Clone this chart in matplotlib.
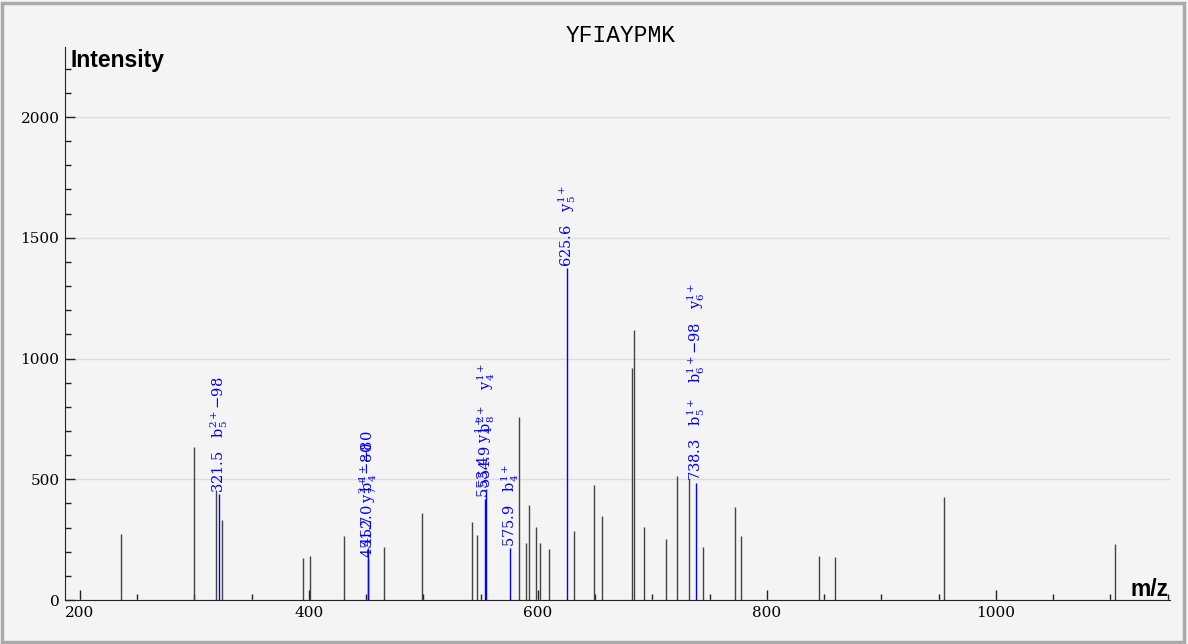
import matplotlib.pyplot as plt
from matplotlib.ticker import MultipleLocator
from matplotlib.patches import Rectangle

plt.rcParams['mathtext.fontset'] = 'dejavuserif'

peptide = 'YFIAYPMK'

# picos sem anotação (m/z, intensidade)
mz_plain = [235.8, 299.6, 318.5, 324.3, 394.8, 401.0, 430.6, 465.5, 498.7, 542.1, 546.5,
            583.1, 589.2, 592.1, 598.3, 602.0, 609.9, 631.1, 649.0, 656.4, 682.4, 684.1,
            692.3, 711.5, 721.4, 731.6, 744.6, 771.7, 777.3, 845.4, 859.4, 954.6, 1103.9]
int_plain = [273, 633, 455, 331, 174, 182, 265, 220, 360, 323, 269,
             759, 237, 393, 304, 237, 210, 286, 476, 349, 962, 1118,
             304, 252, 515, 501, 221, 384, 265, 182, 178, 427, 232]

# picos anotados
mz_ann = [321.5, 451.7, 452.0, 553.4, 554.9, 575.9, 625.6, 738.3]
int_ann = [439, 170, 215, 418, 460, 215, 1375, 486]
mz_text = ['321.5', '451.7', '452.0', '553.4', '554.9', '575.9', '625.6', '738.3']
ions = [
    ['b$_5^{2+}$$-$98'],
    ['y$_7^{2+}$$-$80'],
    ['b$_4^{1+}$$-$80'],
    ['y$_4^{1+}$'],
    ['b$_8^{2+}$', 'y$_4^{1+}$'],
    ['b$_4^{1+}$'],
    ['y$_5^{1+}$'],
    ['b$_5^{1+}$', 'b$_6^{1+}$$-$98', 'y$_6^{1+}$'],
]

W, H = 1188, 644
bg = '#f4f4f4'
fig = plt.figure(figsize=(W / 100, H / 100), dpi=100, facecolor=bg)
ax = fig.add_axes([65 / W, 44 / H, (1170 - 65) / W, (600 - 47) / H])
ax.set_facecolor(bg)

ax.vlines(mz_plain, 0, int_plain, color='#444444', lw=1)
ax.vlines(mz_ann, 0, int_ann, color='blue', lw=1)

for mz, inten, lab, ion in zip(mz_ann, int_ann, mz_text, ions):
    txt = '   '.join([lab] + ion)
    ax.annotate(txt, (mz, inten), xytext=(0, 1), textcoords='offset points',
                rotation=90, ha='center', va='bottom', color='blue',
                fontsize=10.5, family='DejaVu Serif')

ax.set_xlim(187, 1152)
ax.set_ylim(0, 2290)

for s in ['top', 'right']:
    ax.spines[s].set_visible(False)
for s in ['left', 'bottom']:
    ax.spines[s].set_color('#222222')

ax.xaxis.set_major_locator(MultipleLocator(200))
ax.xaxis.set_minor_locator(MultipleLocator(50))
ax.yaxis.set_major_locator(MultipleLocator(500))
ax.yaxis.set_minor_locator(MultipleLocator(100))
ax.tick_params(which='major', direction='in', length=7, width=1, color='#222222',
               labelsize=11, pad=4)
ax.tick_params(which='minor', direction='in', length=4.5, width=1, color='#222222')
for t in ax.get_xticklabels() + ax.get_yticklabels():
    t.set_family('DejaVu Serif')

ax.yaxis.grid(True, color='#dcdcdc', lw=1)
ax.set_axisbelow(True)

fig.text(621 / W, 1 - 35 / H, peptide, family='Liberation Mono', fontsize=16.5,
         ha='center', va='center')
fig.text(70 / W, 1 - 61 / H, 'Intensity', family='Liberation Sans', fontweight='bold',
         fontsize=16.5, ha='left', va='center')
fig.text(1169 / W, 1 - 589 / H, 'm/z', family='Liberation Sans', fontweight='bold',
         fontsize=16.5, ha='right', va='center')

# moldura em volta da figura
fig.patches.append(Rectangle((0.002, 0.003), 0.995, 0.993, transform=fig.transFigure,
                             fill=False, edgecolor='#aaaaaa', lw=2.5))

fig.savefig('out.png', dpi=100, facecolor=bg)
